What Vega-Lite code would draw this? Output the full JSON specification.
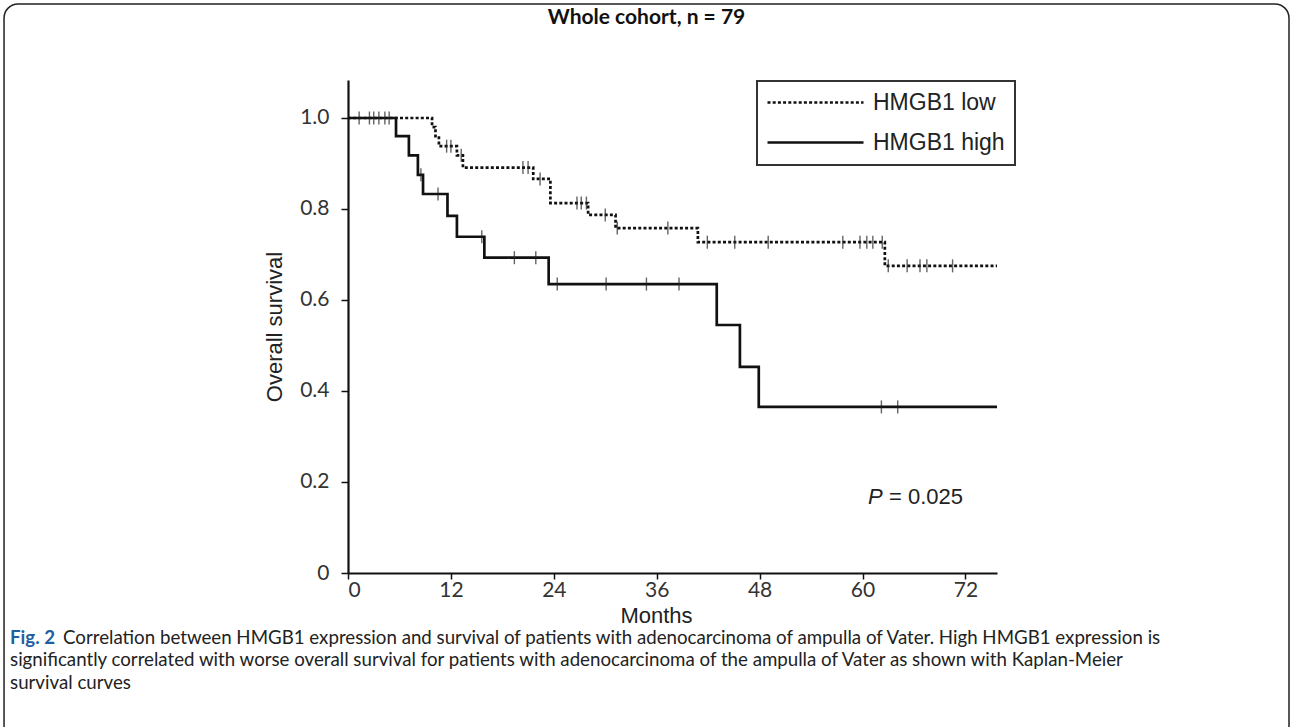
{
  "$schema": "https://vega.github.io/schema/vega-lite/v6.json",
  "width": 649,
  "height": 493,
  "autosize": {"type": "none"},
  "padding": {"left": 348, "top": 80, "right": 296, "bottom": 154},
  "background": "white",
  "config": {"view": {"stroke": null}, "font": "Liberation Sans"},
  "title": {"text": "Whole cohort, n = 79", "font": "Lato", "fontSize": 21, "fontWeight": "bold", "color": "#111", "anchor": "middle", "frame": "group", "dx": -26, "offset": -25},
  "datasets": {
    "curves": [
      {"group": "HMGB1 low", "month": 0, "survival": 1.0},
      {"group": "HMGB1 low", "month": 9.8, "survival": 0.98},
      {"group": "HMGB1 low", "month": 10.2, "survival": 0.96},
      {"group": "HMGB1 low", "month": 10.6, "survival": 0.938},
      {"group": "HMGB1 low", "month": 12.7, "survival": 0.918},
      {"group": "HMGB1 low", "month": 13.4, "survival": 0.891},
      {"group": "HMGB1 low", "month": 21.6, "survival": 0.866},
      {"group": "HMGB1 low", "month": 23.6, "survival": 0.813},
      {"group": "HMGB1 low", "month": 28.0, "survival": 0.787},
      {"group": "HMGB1 low", "month": 31.2, "survival": 0.758},
      {"group": "HMGB1 low", "month": 40.8, "survival": 0.727},
      {"group": "HMGB1 low", "month": 62.6, "survival": 0.675},
      {"group": "HMGB1 low", "month": 75.68, "survival": 0.675},
      {"group": "HMGB1 high", "month": 0, "survival": 1.0},
      {"group": "HMGB1 high", "month": 5.6, "survival": 0.96},
      {"group": "HMGB1 high", "month": 7.1, "survival": 0.918},
      {"group": "HMGB1 high", "month": 8.15, "survival": 0.875},
      {"group": "HMGB1 high", "month": 8.75, "survival": 0.833},
      {"group": "HMGB1 high", "month": 11.6, "survival": 0.785},
      {"group": "HMGB1 high", "month": 12.7, "survival": 0.739},
      {"group": "HMGB1 high", "month": 15.9, "survival": 0.693},
      {"group": "HMGB1 high", "month": 23.4, "survival": 0.635},
      {"group": "HMGB1 high", "month": 43.0, "survival": 0.545},
      {"group": "HMGB1 high", "month": 45.7, "survival": 0.453},
      {"group": "HMGB1 high", "month": 47.9, "survival": 0.365},
      {"group": "HMGB1 high", "month": 75.68, "survival": 0.365}
    ],
    "censors": [
      {"group": "HMGB1 low", "month": 1.3, "survival": 1.0},
      {"group": "HMGB1 high", "month": 2.5, "survival": 1.0},
      {"group": "HMGB1 low", "month": 3.0, "survival": 1.0},
      {"group": "HMGB1 high", "month": 3.6, "survival": 1.0},
      {"group": "HMGB1 low", "month": 4.3, "survival": 1.0},
      {"group": "HMGB1 high", "month": 4.8, "survival": 1.0},
      {"group": "HMGB1 low", "month": 11.5, "survival": 0.938},
      {"group": "HMGB1 low", "month": 12.0, "survival": 0.938},
      {"group": "HMGB1 low", "month": 13.2, "survival": 0.918},
      {"group": "HMGB1 low", "month": 20.4, "survival": 0.891},
      {"group": "HMGB1 low", "month": 21.0, "survival": 0.891},
      {"group": "HMGB1 low", "month": 22.4, "survival": 0.866},
      {"group": "HMGB1 low", "month": 26.7, "survival": 0.813},
      {"group": "HMGB1 low", "month": 27.2, "survival": 0.813},
      {"group": "HMGB1 low", "month": 27.8, "survival": 0.813},
      {"group": "HMGB1 low", "month": 30.0, "survival": 0.787},
      {"group": "HMGB1 low", "month": 31.4, "survival": 0.758},
      {"group": "HMGB1 low", "month": 37.3, "survival": 0.758},
      {"group": "HMGB1 low", "month": 41.9, "survival": 0.727},
      {"group": "HMGB1 low", "month": 45.1, "survival": 0.727},
      {"group": "HMGB1 low", "month": 49.0, "survival": 0.727},
      {"group": "HMGB1 low", "month": 57.7, "survival": 0.727},
      {"group": "HMGB1 low", "month": 59.7, "survival": 0.727},
      {"group": "HMGB1 low", "month": 60.5, "survival": 0.727},
      {"group": "HMGB1 low", "month": 61.2, "survival": 0.727},
      {"group": "HMGB1 low", "month": 62.3, "survival": 0.727},
      {"group": "HMGB1 low", "month": 63.0, "survival": 0.675},
      {"group": "HMGB1 low", "month": 65.2, "survival": 0.675},
      {"group": "HMGB1 low", "month": 66.7, "survival": 0.675},
      {"group": "HMGB1 low", "month": 67.5, "survival": 0.675},
      {"group": "HMGB1 low", "month": 70.5, "survival": 0.675},
      {"group": "HMGB1 high", "month": 8.5, "survival": 0.875},
      {"group": "HMGB1 high", "month": 10.5, "survival": 0.833},
      {"group": "HMGB1 high", "month": 15.6, "survival": 0.739},
      {"group": "HMGB1 high", "month": 19.4, "survival": 0.693},
      {"group": "HMGB1 high", "month": 21.9, "survival": 0.693},
      {"group": "HMGB1 high", "month": 24.4, "survival": 0.635},
      {"group": "HMGB1 high", "month": 30.1, "survival": 0.635},
      {"group": "HMGB1 high", "month": 34.8, "survival": 0.635},
      {"group": "HMGB1 high", "month": 38.6, "survival": 0.635},
      {"group": "HMGB1 high", "month": 62.2, "survival": 0.365},
      {"group": "HMGB1 high", "month": 64.1, "survival": 0.365}
    ],
    "annotation": [{"label": "P", "rest": "= 0.025"}],
    "caption": [{
      "fig": "Fig. 2",
      "line1": "Correlation between HMGB1 expression and survival of patients with adenocarcinoma of ampulla of Vater. High HMGB1 expression is",
      "line2": "significantly correlated with worse overall survival for patients with adenocarcinoma of the ampulla of Vater as shown with Kaplan-Meier",
      "line3": "survival curves"
    }],
    "frame": [{"x0": -40.11, "x1": 109.73, "y0": 1.2505, "y1": -0.367}]
  },
  "layer": [
    {
      "data": {"name": "frame"},
      "mark": {"type": "rect", "fill": null, "fillOpacity": 0, "stroke": "#222", "strokeWidth": 1.5, "cornerRadius": 14},
      "encoding": {
        "x": {"field": "x0", "type": "quantitative"},
        "x2": {"field": "x1"},
        "y": {"field": "y0", "type": "quantitative"},
        "y2": {"field": "y1"}
      }
    },
    {
      "data": {"name": "curves"},
      "mark": {"type": "line", "interpolate": "step-after", "color": "#111", "strokeWidth": 2.7},
      "encoding": {
        "x": {
          "field": "month", "type": "quantitative",
          "scale": {"domain": [0, 75.68], "nice": false, "zero": false},
          "axis": {
            "values": [0, 12, 24, 36, 48, 60, 72],
            "title": "Months", "titleFont": "Liberation Sans", "titleFontSize": 22, "titleFontWeight": "normal", "titleColor": "#222",
            "titleX": 308, "titleY": 32,
            "labelFont": "Lato", "labelFontSize": 21, "labelColor": "#333", "labelPadding": 0,
            "tickSize": 6, "tickWidth": 1.5, "tickColor": "#111",
            "domainColor": "#111", "domainWidth": 2.2, "grid": false
          }
        },
        "y": {
          "field": "survival", "type": "quantitative",
          "scale": {"domain": [0, 1.0835], "nice": false},
          "axis": {
            "values": [0, 0.2, 0.4, 0.6, 0.8, 1.0],
            "labelExpr": "datum.value == 0 ? '0' : format(datum.value, '.1f')",
            "title": "Overall survival", "titleFont": "Liberation Sans", "titleFontSize": 22, "titleFontWeight": "normal", "titleColor": "#222",
            "titlePadding": 13,
            "labelFont": "Lato", "labelFontSize": 21, "labelColor": "#333", "labelPadding": 12,
            "tickSize": 7, "tickWidth": 1.5, "tickColor": "#111",
            "domainColor": "#111", "domainWidth": 2.2, "grid": false
          }
        },
        "strokeDash": {
          "field": "group", "type": "nominal",
          "scale": {"domain": ["HMGB1 low", "HMGB1 high"], "range": [[3, 2.2], [1, 0]]},
          "legend": {
            "title": null, "orient": "none", "legendX": 409, "legendY": 1,
            "strokeColor": "#333", "padding": 10,
            "symbolType": "M-6,0H6", "symbolSize": 256, "symbolStrokeWidth": 2.5, "symbolStrokeColor": "#111",
            "symbolOffset": 37, "labelOffset": 46,
            "labelFont": "Liberation Sans", "labelFontSize": 23, "labelColor": "#222", "labelLimit": 300,
            "rowPadding": 16,
            "encode": {
              "legend": {"update": {"strokeWidth": {"value": 2}}}
            }
          }
        }
      }
    },
    {
      "data": {"name": "censors"},
      "mark": {"type": "tick", "orient": "vertical", "size": 13, "thickness": 1.4, "color": "#222"},
      "encoding": {
        "x": {"field": "month", "type": "quantitative"},
        "y": {"field": "survival", "type": "quantitative"}
      }
    },
    {
      "data": {"name": "annotation"},
      "mark": {"type": "text", "font": "Liberation Sans", "fontSize": 22, "fontStyle": "italic", "align": "left", "baseline": "middle", "color": "#222"},
      "encoding": {"text": {"field": "label"}, "x": {"datum": 60.63}, "y": {"datum": 0.167}}
    },
    {
      "data": {"name": "annotation"},
      "mark": {"type": "text", "font": "Liberation Sans", "fontSize": 22, "align": "left", "baseline": "middle", "color": "#222", "dx": 21},
      "encoding": {"text": {"field": "rest"}, "x": {"datum": 60.63}, "y": {"datum": 0.167}}
    },
    {
      "data": {"name": "caption"},
      "mark": {"type": "text", "font": "Lato", "fontSize": 18.7, "fontWeight": "bold", "align": "left", "baseline": "middle", "color": "#1f5fa0"},
      "encoding": {"text": {"field": "fig"}, "x": {"datum": -39.41}, "y": {"datum": -0.1429}}
    },
    {
      "data": {"name": "caption"},
      "mark": {"type": "text", "font": "Lato", "fontSize": 18.7, "align": "left", "baseline": "middle", "color": "#222", "dx": 53},
      "encoding": {"text": {"field": "line1"}, "x": {"datum": -39.41}, "y": {"datum": -0.1429}}
    },
    {
      "data": {"name": "caption"},
      "mark": {"type": "text", "font": "Lato", "fontSize": 18.7, "align": "left", "baseline": "middle", "color": "#222"},
      "encoding": {"text": {"field": "line2"}, "x": {"datum": -39.41}, "y": {"datum": -0.1912}}
    },
    {
      "data": {"name": "caption"},
      "mark": {"type": "text", "font": "Lato", "fontSize": 18.7, "align": "left", "baseline": "middle", "color": "#222"},
      "encoding": {"text": {"field": "line3"}, "x": {"datum": -39.41}, "y": {"datum": -0.2418}}
    }
  ]
}
